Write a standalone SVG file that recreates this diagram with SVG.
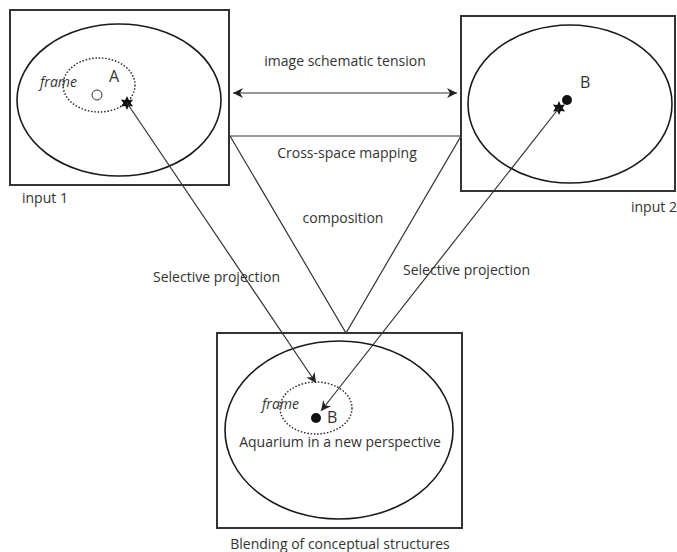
<svg xmlns="http://www.w3.org/2000/svg" width="677" height="552" viewBox="0 0 677 552">
<style>
.box{fill:none;stroke:#333;stroke-width:2}
.ell{fill:none;stroke:#1a1a1a;stroke-width:1.6}
.dot{fill:none;stroke:#222;stroke-width:1.4;stroke-dasharray:1.5 1.8}
.ln{fill:none;stroke:#333;stroke-width:1.2}
text{font-family:"Open Sans","Liberation Sans",sans-serif;font-size:14px;fill:#333}
.it{font-style:italic}
.big{font-size:16px}
.mid{text-anchor:middle}
</style>
<defs>
<marker id="ah" viewBox="0 0 10 10" refX="10" refY="5" markerWidth="10" markerHeight="10" markerUnits="userSpaceOnUse" orient="auto-start-reverse">
<path d="M0,0 L10,5 L0,10 L3,5 Z" fill="#222"/>
</marker>
<polygon id="star" points="0,-7 1.8,-3.1 6.1,-3.5 3.6,0 6.1,3.5 1.8,3.1 0,7 -1.8,3.1 -6.1,3.5 -3.6,0 -6.1,-3.5 -1.8,-3.1" fill="#111"/>
</defs>
<g id="input1">
<rect class="box" x="10" y="10" width="219" height="175"/>
<ellipse class="ell" cx="119" cy="100" rx="102" ry="76"/>
<ellipse class="dot" cx="99" cy="85" rx="36" ry="27"/>
<text class="it" x="40" y="87">frame</text>
<text class="big" x="109" y="82">A</text>
<circle cx="97" cy="95" r="5" fill="none" stroke="#333" stroke-width="1"/>
<use href="#star" x="127" y="103"/>
<text x="22" y="203">input 1</text>
</g>
<g id="input2">
<rect class="box" x="461" y="16" width="214" height="175"/>
<ellipse class="ell" cx="570" cy="104" rx="102" ry="79"/>
<text class="big" x="580" y="88">B</text>
<circle cx="567" cy="100" r="5" fill="#111"/>
<use href="#star" x="559" y="108"/>
<text x="631" y="212">input 2</text>
</g>
<g id="blend">
<rect class="box" x="217" y="333" width="245" height="195"/>
<ellipse class="ell" cx="339" cy="430" rx="114" ry="89"/>
<ellipse class="dot" cx="316" cy="408" rx="36" ry="26"/>
<text class="it" x="262" y="409">frame</text>
<circle cx="316" cy="418" r="5" fill="#111"/>
<text class="big" x="327" y="423">B</text>
<text class="mid" x="340" y="447">Aquarium in a new perspective</text>
<text class="mid" x="340" y="549">Blending of conceptual structures</text>
</g>
<g id="connectors">
<line class="ln" x1="233" y1="93" x2="457" y2="93" marker-start="url(#ah)" marker-end="url(#ah)"/>
<polyline class="ln" points="230,136 461,136 346,333 230,136"/>
<line class="ln" x1="127" y1="103" x2="316" y2="383" marker-end="url(#ah)"/>
<line class="ln" x1="559" y1="108" x2="321" y2="411" marker-end="url(#ah)"/>
</g>
<g id="labels">
<text class="mid" x="345" y="66">image schematic tension</text>
<text class="mid" x="347" y="158">Cross-space mapping</text>
<text class="mid" x="343" y="223">composition</text>
<text x="153" y="282">Selective projection</text>
<text x="403" y="275">Selective projection</text>
</g>
</svg>
